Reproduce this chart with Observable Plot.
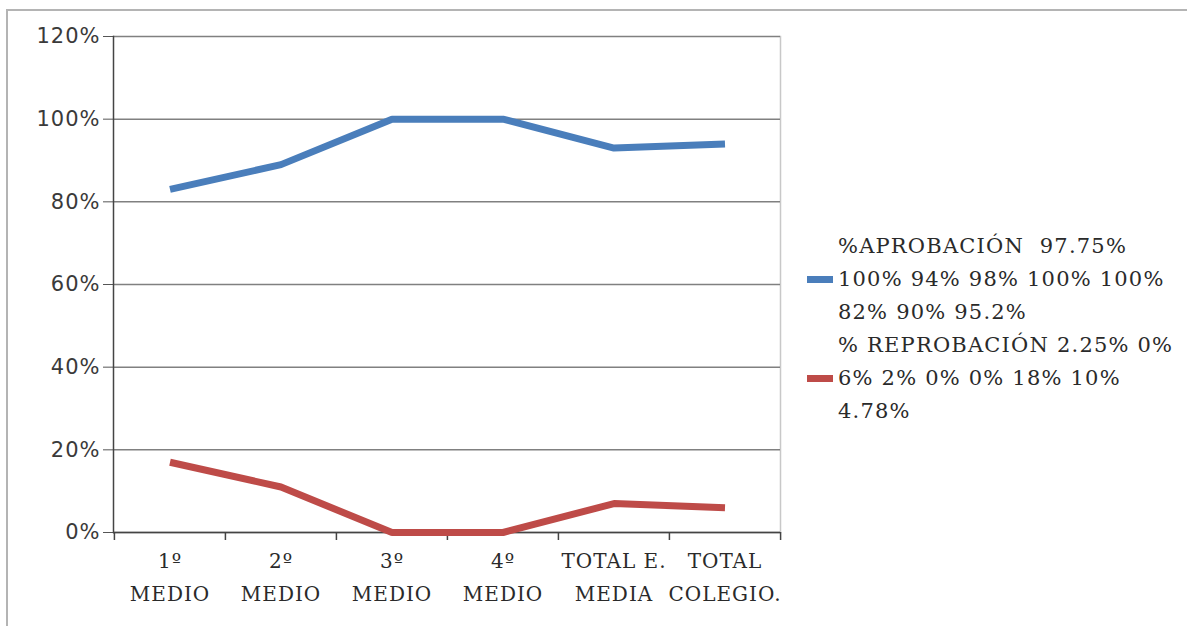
<!DOCTYPE html>
<html>
<head>
<meta charset="utf-8">
<script src="https://cdn.jsdelivr.net/npm/d3@7"></script>
<script src="https://cdn.jsdelivr.net/npm/@observablehq/plot@0.6"></script>
<style>
  html, body { margin: 0; padding: 0; background: #fff; }
  #wrap { position: relative; width: 1187px; height: 626px; overflow: hidden; }
  #border { position: absolute; left: 6px; top: 9px; width: 1200px; height: 700px;
            border-left: 2px solid #b4b4b4; border-top: 2px solid #b4b4b4; }
  #legend { position: absolute; left: 807px; top: 230px; font-family: "DejaVu Serif", serif;
            font-size: 21px; letter-spacing: 1.2px; color: #2a2a2a; line-height: 33px; }
  .item { display: flex; align-items: center; }
  .sw { width: 26px; height: 7px; margin-right: 5px; flex: none; }
  .lbl { white-space: pre; }
  svg text { letter-spacing: 1px; }
</style>
</head>
<body>
<div id="wrap">
  <div id="border"></div>
  <div id="chart"></div>
  <div id="legend"></div>
</div>
<script>
const categories = ["1º\nMEDIO", "2º\nMEDIO", "3º\nMEDIO", "4º\nMEDIO", "TOTAL E.\nMEDIA", "TOTAL\nCOLEGIO."];
const aprobacion = [0.83, 0.89, 1.00, 1.00, 0.93, 0.94];
const reprobacion = [0.17, 0.11, 0.00, 0.00, 0.07, 0.06];
const yTicks = [0, 0.2, 0.4, 0.6, 0.8, 1.0, 1.2];
const seriesNames = ["%APROBACIÓN  97.75%\n100% 94% 98% 100% 100%\n82% 90% 95.2%",
                     "% REPROBACIÓN 2.25% 0%\n6% 2% 0% 0% 18% 10%\n4.78%"];
const seriesColors = ["#4a7ebb", "#be4b48"];

const W = 1187, H = 626, ML = 113, MR = 407, MT = 36, MB = 94;
const step = (W - ML - MR) / categories.length;

const rows = [
  ...categories.map((c, i) => ({cat: c, v: aprobacion[i], s: seriesNames[0]})),
  ...categories.map((c, i) => ({cat: c, v: reprobacion[i], s: seriesNames[1]}))
];

const chart = Plot.plot({
  width: W, height: H,
  marginLeft: ML, marginRight: MR, marginTop: MT, marginBottom: MB,
  style: {background: "transparent"},
  x: {type: "band", domain: categories, padding: 0, axis: null},
  y: {domain: [0, 1.2], axis: null},
  color: {domain: seriesNames, range: seriesColors},
  marks: [
    Plot.frame({anchor: "right", stroke: "#c8c8c8", strokeWidth: 1.5}),
    Plot.gridY(yTicks, {stroke: "#808080", strokeOpacity: 1, strokeWidth: 1.5}),
    Plot.axisY(yTicks, {tickSize: 10, tickPadding: 3, label: null, stroke: "#555",
      tickFormat: d => Math.round(d * 100) + "%", fontSize: 21,
      fontFamily: "DejaVu Sans, sans-serif", fill: "#3a3a3a"}),
    Plot.frame({anchor: "left", stroke: "#444", strokeWidth: 1.5}),
    Plot.axisX({tickSize: 8, text: null, dx: -step / 2, stroke: "#444", strokeWidth: 1.5, label: null}),
    Plot.axisX([categories[categories.length - 1]], {tickSize: 8, text: null, dx: step / 2, stroke: "#444", strokeWidth: 1.5, label: null}),
    Plot.axisX({tickSize: 0, tickPadding: 12, label: null, fontSize: 20, lineHeight: 1.65,
      fontFamily: "DejaVu Serif, serif", fill: "#2a2a2a"}),
    Plot.ruleY([0], {stroke: "#444", strokeWidth: 1.5}),
    Plot.line(rows, {x: "cat", y: "v", z: "s", stroke: "s", strokeWidth: 7,
      strokeLinejoin: "miter", strokeLinecap: "butt"})
  ]
});
document.getElementById("chart").appendChild(chart);

const legend = document.getElementById("legend");
seriesNames.forEach((n, i) => {
  const item = document.createElement("div");
  item.className = "item";
  const sw = document.createElement("div");
  sw.className = "sw";
  sw.style.background = seriesColors[i];
  const lbl = document.createElement("div");
  lbl.className = "lbl";
  lbl.textContent = n;
  item.appendChild(sw);
  item.appendChild(lbl);
  legend.appendChild(item);
});
</script>
</body>
</html>
